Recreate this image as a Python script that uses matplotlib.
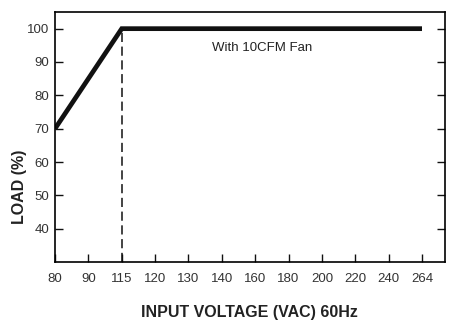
import matplotlib
matplotlib.use('Agg')
import matplotlib.pyplot as plt

# x axis is categorical: evenly spaced voltages
volt_labels = ['80', '90', '115', '120', '130', '140', '160', '180', '200', '220', '240', '264']
load_ticks = [40, 50, 60, 70, 80, 90, 100]

# derating curve (voltage index, load %)
curve_idx = [0, 2, 11]
curve_load = [70, 100, 100]

knee_idx = 2
knee_load = 100

plt.rcParams['font.family'] = ['Liberation Sans', 'DejaVu Sans']

fig = plt.figure(figsize=(4.6, 3.36), dpi=100)
ax = fig.add_axes([0.1196, 0.2202, 0.8471, 0.7441])

ax.plot(curve_idx, curve_load, color='#111111', lw=3.4, solid_capstyle='butt', solid_joinstyle='miter')
ax.plot([knee_idx, knee_idx], [30, knee_load], color='#111111', lw=1.1, ls=(0, (6, 3)))

ax.text(6.2, 94.3, 'With 10CFM Fan', fontsize=9.5, color='#222222', ha='center', va='center')

ax.set_xlim(0, 11.68)
ax.set_ylim(30, 105)
ax.set_xticks(range(len(volt_labels)))
ax.set_xticklabels(volt_labels)
ax.set_yticks(load_ticks)

ax.tick_params(axis='both', direction='in', length=6, width=1, labelsize=9.5, colors='#111111', labelcolor='#333333')
ax.tick_params(axis='y', right=True, pad=4)
ax.tick_params(axis='x', pad=8)
for s in ax.spines.values():
    s.set_linewidth(1.2)

ax.set_xlabel('INPUT VOLTAGE (VAC) 60Hz', fontsize=11.5, fontweight='bold', color='#222222')
ax.set_ylabel('LOAD (%)', fontsize=11.5, fontweight='bold', color='#222222')
ax.xaxis.set_label_coords(0.5, -0.172)
ax.yaxis.set_label_coords(-0.073, 0.30)

fig.savefig('out.png', dpi=100)
